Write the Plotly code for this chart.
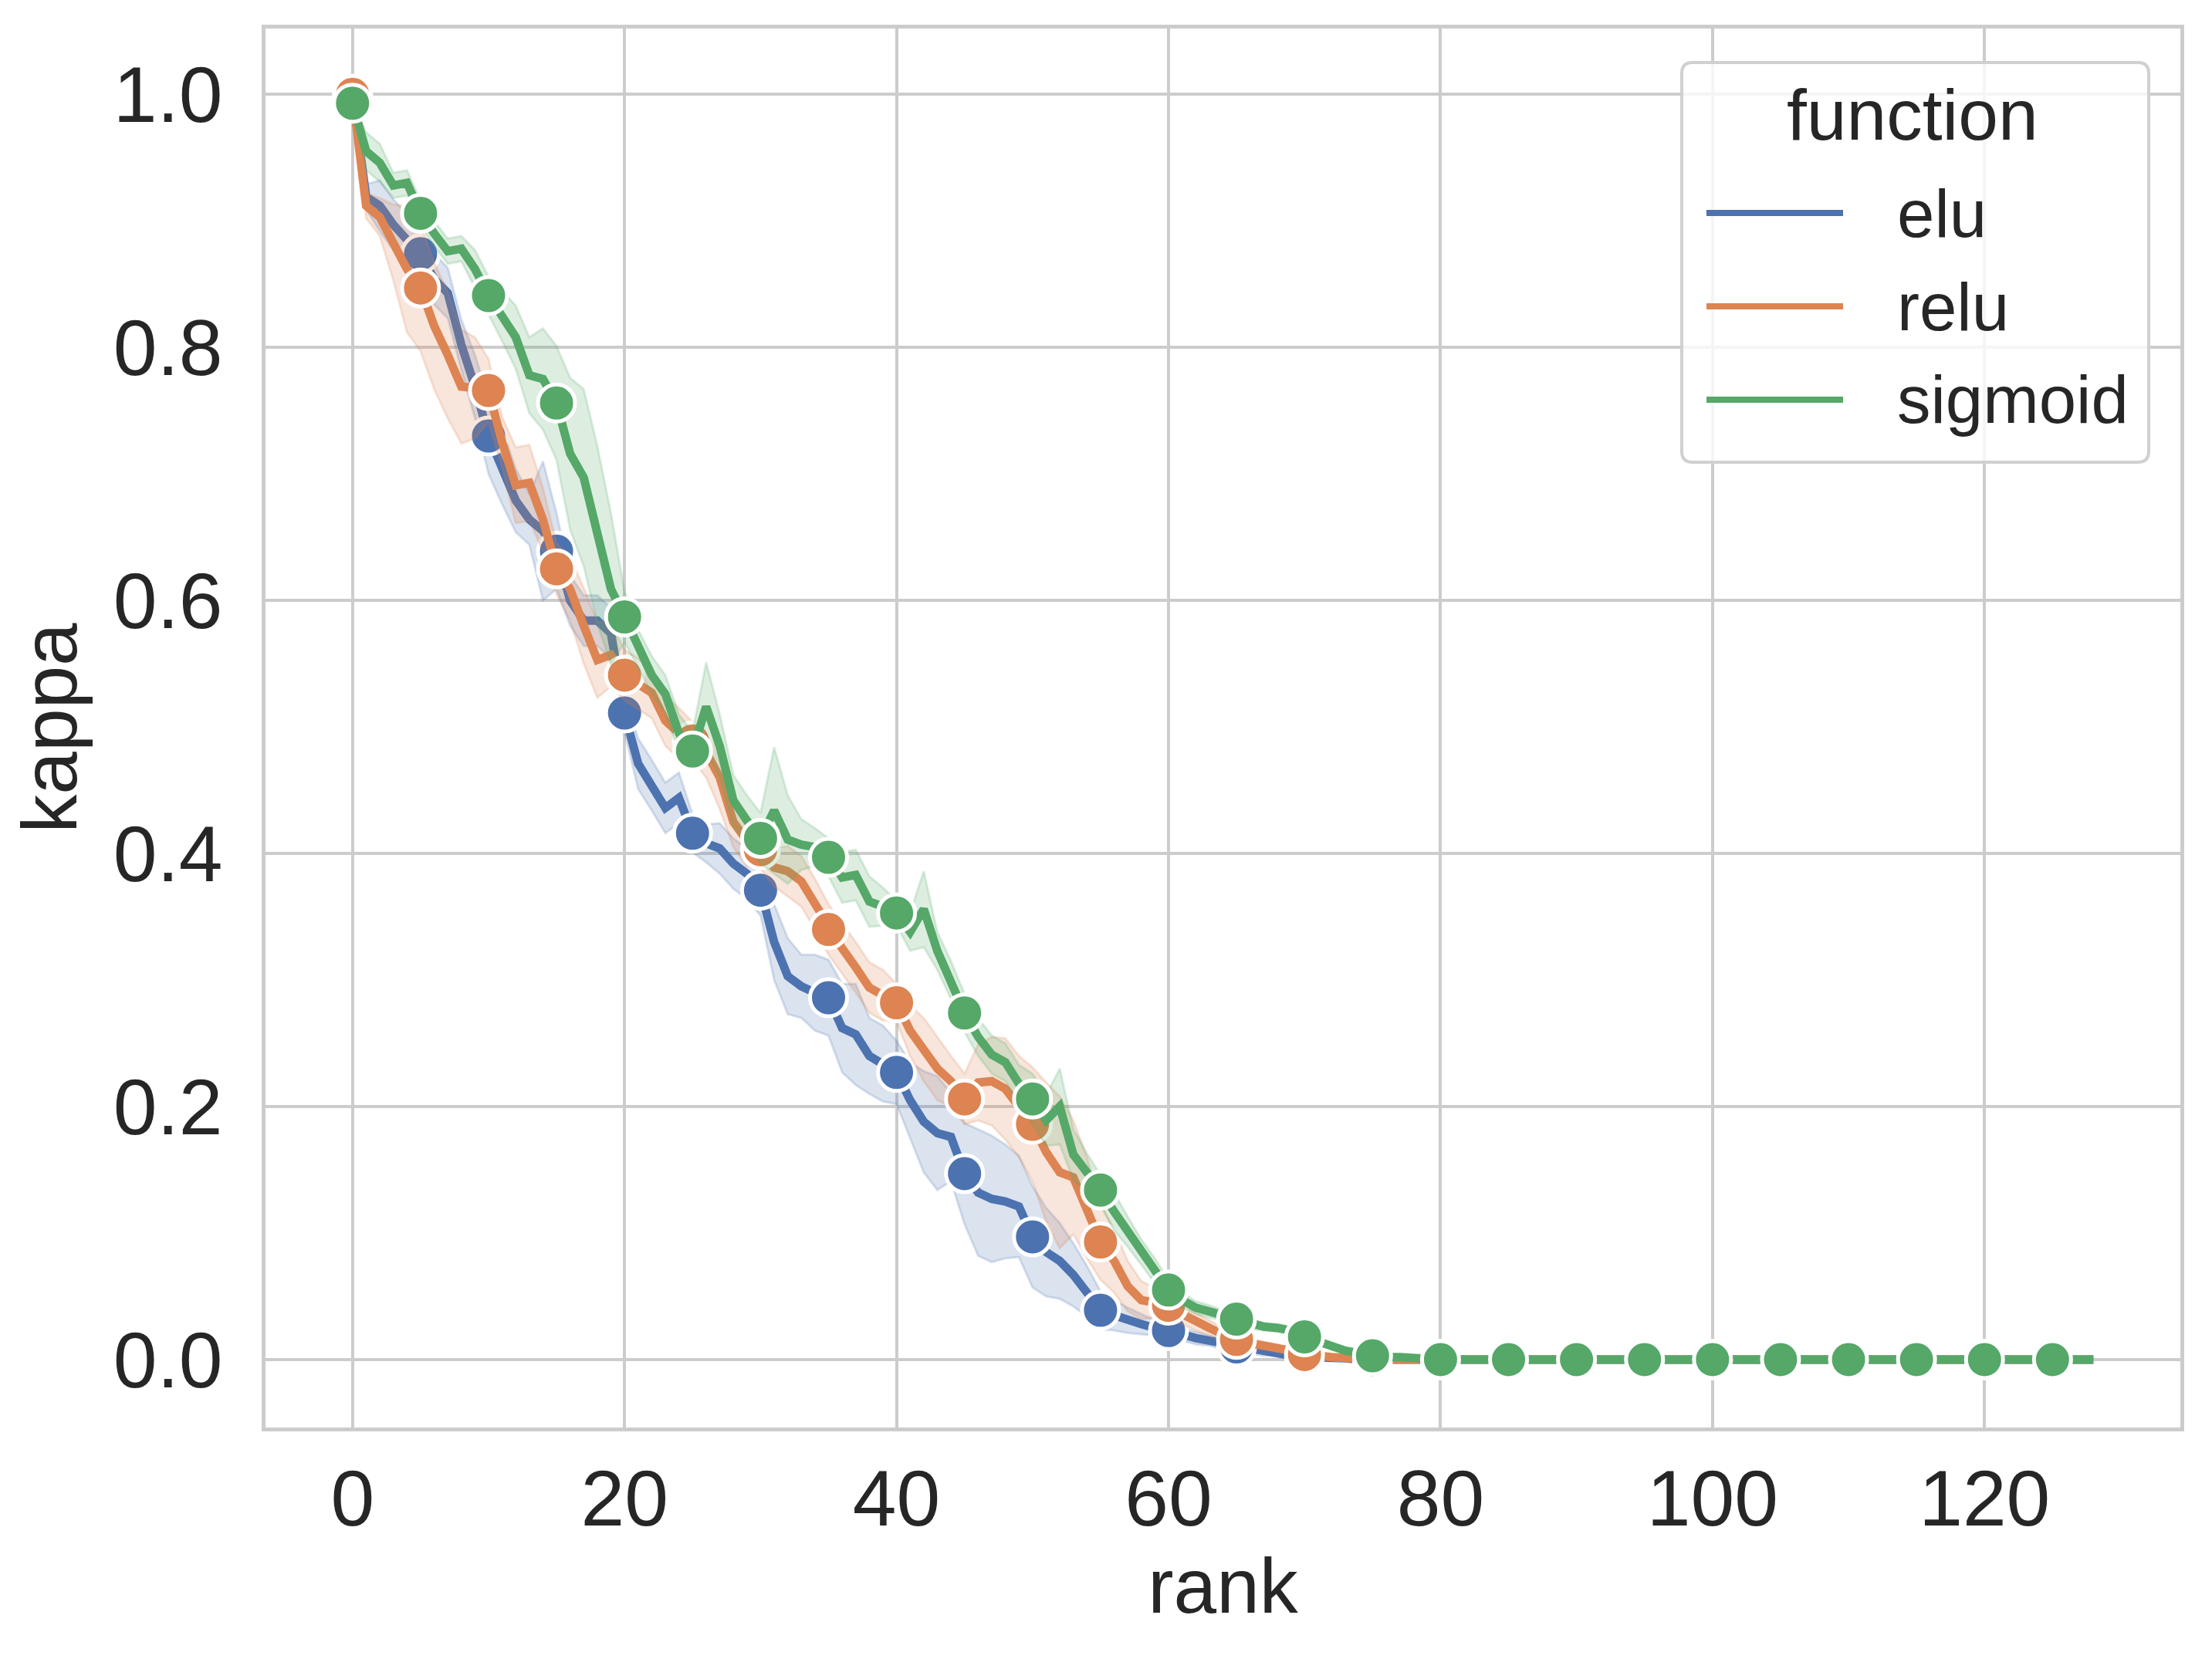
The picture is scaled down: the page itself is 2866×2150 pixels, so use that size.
import plotly.graph_objects as go

# ---------------- data ----------------
rank = list(range(129))

elu = [
    1.000, 0.919, 0.912, 0.897, 0.885, 0.874, 0.854, 0.843, 0.802, 0.769,
    0.730, 0.706, 0.679, 0.664, 0.655, 0.639, 0.600, 0.584, 0.584, 0.574,
    0.511, 0.471, 0.454, 0.436, 0.444, 0.416, 0.408, 0.404, 0.392, 0.384,
    0.371, 0.330, 0.303, 0.295, 0.290, 0.286, 0.262, 0.257, 0.240, 0.234,
    0.227, 0.205, 0.188, 0.179, 0.176, 0.147, 0.132, 0.127, 0.125, 0.121,
    0.097, 0.085, 0.078, 0.067, 0.054, 0.039, 0.035, 0.031, 0.028, 0.025,
    0.023, 0.020, 0.017, 0.015, 0.012, 0.010, 0.008, 0.006, 0.005, 0.003,
    0.002, 0.002, 0.001, 0.001, 0.000, 0.000, 0.000, 0.000, 0.000, 0.000,
    0.000, 0.000, 0.000, 0.000, 0.000, 0.000, 0.000, 0.000, 0.000, 0.000,
    0.000, 0.000, 0.000, 0.000, 0.000, 0.000, 0.000, 0.000, 0.000, 0.000,
    0.000, 0.000, 0.000, 0.000, 0.000, 0.000, 0.000, 0.000, 0.000, 0.000,
    0.000, 0.000, 0.000, 0.000, 0.000, 0.000, 0.000, 0.000, 0.000, 0.000,
    0.000, 0.000, 0.000, 0.000, 0.000, 0.000, 0.000, 0.000, 0.000,
]
relu = [
    1.000, 0.912, 0.903, 0.883, 0.862, 0.847, 0.817, 0.794, 0.769, 0.768,
    0.766, 0.725, 0.691, 0.693, 0.664, 0.625, 0.609, 0.580, 0.553, 0.557,
    0.541, 0.534, 0.527, 0.505, 0.495, 0.489, 0.480, 0.460, 0.425, 0.410,
    0.403, 0.389, 0.386, 0.378, 0.360, 0.340, 0.325, 0.310, 0.294, 0.288,
    0.282, 0.260, 0.245, 0.230, 0.220, 0.206, 0.219, 0.220, 0.214, 0.200,
    0.186, 0.164, 0.148, 0.144, 0.120, 0.093, 0.078, 0.058, 0.047, 0.045,
    0.043, 0.036, 0.030, 0.025, 0.020, 0.016, 0.013, 0.011, 0.009, 0.006,
    0.004, 0.003, 0.002, 0.001, 0.001, 0.000, 0.000, 0.000, 0.000, 0.000,
    0.000, 0.000, 0.000, 0.000, 0.000, 0.000, 0.000, 0.000, 0.000, 0.000,
    0.000, 0.000, 0.000, 0.000, 0.000, 0.000, 0.000, 0.000, 0.000, 0.000,
    0.000, 0.000, 0.000, 0.000, 0.000, 0.000, 0.000, 0.000, 0.000, 0.000,
    0.000, 0.000, 0.000, 0.000, 0.000, 0.000, 0.000, 0.000, 0.000, 0.000,
    0.000, 0.000, 0.000, 0.000, 0.000, 0.000, 0.000, 0.000, 0.000,
]
sigmoid = [
    0.993, 0.955, 0.946, 0.928, 0.930, 0.906, 0.890, 0.876, 0.878, 0.862,
    0.841, 0.825, 0.808, 0.778, 0.775, 0.756, 0.716, 0.697, 0.652, 0.609,
    0.587, 0.562, 0.541, 0.526, 0.495, 0.481, 0.516, 0.485, 0.442, 0.426,
    0.412, 0.434, 0.411, 0.407, 0.405, 0.397, 0.381, 0.383, 0.362, 0.358,
    0.353, 0.338, 0.356, 0.323, 0.300, 0.274, 0.255, 0.241, 0.235, 0.218,
    0.206, 0.189, 0.200, 0.162, 0.148, 0.134, 0.117, 0.101, 0.085, 0.070,
    0.055, 0.047, 0.041, 0.038, 0.035, 0.032, 0.028, 0.026, 0.025, 0.023,
    0.018, 0.014, 0.010, 0.007, 0.005, 0.003, 0.002, 0.002, 0.001, 0.001,
    0.000, 0.000, 0.000, 0.000, 0.000, 0.000, 0.000, 0.000, 0.000, 0.000,
    0.000, 0.000, 0.000, 0.000, 0.000, 0.000, 0.000, 0.000, 0.000, 0.000,
    0.000, 0.000, 0.000, 0.000, 0.000, 0.000, 0.000, 0.000, 0.000, 0.000,
    0.000, 0.000, 0.000, 0.000, 0.000, 0.000, 0.000, 0.000, 0.000, 0.000,
    0.000, 0.000, 0.000, 0.000, 0.000, 0.000, 0.000, 0.000, 0.000,
]

# 95% CI half-widths (ranks 0..79 listed; the rest of the band is flat at 0)
elu_ci = [
    0.000, 0.010, 0.020, 0.020, 0.020, 0.015, 0.020, 0.020, 0.020, 0.025,
    0.030, 0.030, 0.025, 0.020, 0.055, 0.030, 0.020, 0.020, 0.020, 0.020,
    0.015, 0.020, 0.020, 0.020, 0.020, 0.015, 0.015, 0.020, 0.020, 0.020,
    0.020, 0.030, 0.030, 0.025, 0.030, 0.030, 0.035, 0.040, 0.030, 0.030,
    0.025, 0.030, 0.040, 0.045, 0.035, 0.040, 0.050, 0.050, 0.045, 0.040,
    0.040, 0.035, 0.030, 0.025, 0.020, 0.015, 0.012, 0.010, 0.008, 0.006,
    0.006, 0.005, 0.005, 0.004, 0.004, 0.004, 0.003, 0.003, 0.002, 0.002,
    0.001, 0.001, 0.001, 0.001, 0.000, 0.000, 0.000, 0.000, 0.000, 0.000,
]
relu_ci = [
    0.000, 0.010, 0.015, 0.030, 0.050, 0.050, 0.050, 0.050, 0.045, 0.040,
    0.025, 0.020, 0.030, 0.030, 0.025, 0.020, 0.025, 0.030, 0.030, 0.025,
    0.020, 0.020, 0.020, 0.020, 0.020, 0.015, 0.020, 0.025, 0.020, 0.020,
    0.015, 0.015, 0.020, 0.020, 0.020, 0.020, 0.020, 0.020, 0.020, 0.020,
    0.015, 0.020, 0.025, 0.025, 0.020, 0.020, 0.030, 0.035, 0.040, 0.040,
    0.045, 0.055, 0.060, 0.045, 0.040, 0.030, 0.025, 0.020, 0.015, 0.012,
    0.010, 0.008, 0.007, 0.006, 0.005, 0.004, 0.004, 0.003, 0.003, 0.002,
    0.002, 0.001, 0.001, 0.001, 0.000, 0.000, 0.000, 0.000, 0.000, 0.000,
]
sigmoid_ci = [
    0.000, 0.015, 0.015, 0.010, 0.010, 0.010, 0.010, 0.010, 0.010, 0.015,
    0.015, 0.020, 0.025, 0.030, 0.040, 0.045, 0.060, 0.070, 0.070, 0.060,
    0.020, 0.015, 0.015, 0.015, 0.015, 0.015, 0.035, 0.025, 0.020, 0.020,
    0.020, 0.050, 0.035, 0.020, 0.015, 0.015, 0.020, 0.020, 0.020, 0.015,
    0.010, 0.015, 0.030, 0.015, 0.015, 0.015, 0.015, 0.015, 0.015, 0.015,
    0.020, 0.020, 0.030, 0.020, 0.015, 0.012, 0.015, 0.012, 0.010, 0.010,
    0.008, 0.006, 0.005, 0.005, 0.004, 0.004, 0.004, 0.003, 0.003, 0.003,
    0.003, 0.002, 0.002, 0.001, 0.001, 0.001, 0.000, 0.000, 0.000, 0.000,
]

functions = ["elu", "relu", "sigmoid"]
x_ticks = [0, 20, 40, 60, 80, 100, 120]
y_ticks = [0.0, 0.2, 0.4, 0.6, 0.8, 1.0]
y_tick_text = ["0.0", "0.2", "0.4", "0.6", "0.8", "1.0"]

# ---------------- style ----------------
colors = {"elu": "#4C72B0", "relu": "#DD8452", "sigmoid": "#55A868"}
bands = {"elu": "rgba(76,114,176,0.2)", "relu": "rgba(221,132,82,0.2)",
         "sigmoid": "rgba(85,168,104,0.2)"}
series = {"elu": (elu, elu_ci), "relu": (relu, relu_ci), "sigmoid": (sigmoid, sigmoid_ci)}
FONT = "Liberation Sans, Arial, Helvetica, sans-serif"
TXT = "#262626"
GRID = "#cccccc"

W, H = 2866, 2150
OFF = 8  # the page body margin shifts the figure by this much
ML, MR, MT, MB = 344 - OFF, 41 + OFF, 37 - OFF, 300 + OFF

fig = go.Figure()
for name in functions:
    vals, ci = series[name]
    n_ci = len(ci)
    upper = [v + (ci[i] if i < n_ci else 0.0) for i, v in enumerate(vals)]
    lower = [v - (ci[i] if i < n_ci else 0.0) for i, v in enumerate(vals)]
    fig.add_trace(go.Scatter(
        x=rank + rank[::-1], y=upper + lower[::-1],
        fill="toself", fillcolor=bands[name],
        line=dict(color=bands[name], width=3),
        mode="lines", hoverinfo="skip", showlegend=False))
    fig.add_trace(go.Scatter(
        x=rank, y=vals, mode="lines", name=name,
        line=dict(color=colors[name], width=11), showlegend=False))
    fig.add_trace(go.Scatter(
        x=rank[::5], y=vals[::5], mode="markers", name=name,
        marker=dict(color=colors[name], size=48,
                    line=dict(color="white", width=5)),
        showlegend=False))

axis_common = dict(
    showgrid=True, gridcolor=GRID, gridwidth=4,
    showline=True, linecolor=GRID, linewidth=5, mirror=True,
    zeroline=False,
    tickfont=dict(family=FONT, size=102, color=TXT),
)

fig.update_layout(
    width=W, height=H,
    margin=dict(l=ML, r=MR, t=MT, b=MB, autoexpand=False),
    paper_bgcolor="white", plot_bgcolor="white",
    font=dict(family=FONT, color=TXT),
    showlegend=False,
    xaxis=dict(range=[-6.4, 134.4], tickvals=x_ticks, ticks="",
               title=dict(text="rank", font=dict(family=FONT, size=100, color=TXT),
                          standoff=12),
               **axis_common),
    yaxis=dict(range=[-0.0537, 1.052], tickvals=y_ticks, ticktext=y_tick_text,
               ticks="outside", ticklen=30, tickcolor="rgba(0,0,0,0)",
               title=dict(text="kappa", font=dict(family=FONT, size=100, color=TXT),
                          standoff=28),
               **axis_common),
)

# ---------------- legend (drawn manually to match matplotlib layout) ----------------
PW, PH = W - ML - MR, H - MT - MB
def px(xp):
    return (xp - OFF - ML) / PW
def py(yp):
    return (H - MB - (yp - OFF)) / PH

bx0, bx1, by0, by1, rad = 2179, 2784, 81, 599, 14
path = (f"M {px(bx0 + rad)} {py(by0)} L {px(bx1 - rad)} {py(by0)} "
        f"Q {px(bx1)} {py(by0)} {px(bx1)} {py(by0 + rad)} "
        f"L {px(bx1)} {py(by1 - rad)} "
        f"Q {px(bx1)} {py(by1)} {px(bx1 - rad)} {py(by1)} "
        f"L {px(bx0 + rad)} {py(by1)} "
        f"Q {px(bx0)} {py(by1)} {px(bx0)} {py(by1 - rad)} "
        f"L {px(bx0)} {py(by0 + rad)} "
        f"Q {px(bx0)} {py(by0)} {px(bx0 + rad)} {py(by0)} Z")
fig.add_shape(type="path", path=path, xref="paper", yref="paper",
              fillcolor="rgba(255,255,255,0.8)", line=dict(color="#d0d0d0", width=4),
              layer="above")
fig.add_annotation(x=px(2478), y=py(149), xref="paper", yref="paper",
                   text="function", showarrow=False, xanchor="center", yanchor="middle",
                   font=dict(family=FONT, size=93, color=TXT))
rows_y = [276, 397, 518]
for name, ry in zip(functions, rows_y):
    fig.add_shape(type="line", xref="paper", yref="paper",
                  x0=px(2211), x1=px(2388), y0=py(ry), y1=py(ry),
                  line=dict(color=colors[name], width=8), layer="above")
    fig.add_annotation(x=px(2456), y=py(ry), xref="paper", yref="paper",
                       text=name, showarrow=False, xanchor="left", yanchor="middle",
                       font=dict(family=FONT, size=87, color=TXT))

fig.write_html("out.html")
